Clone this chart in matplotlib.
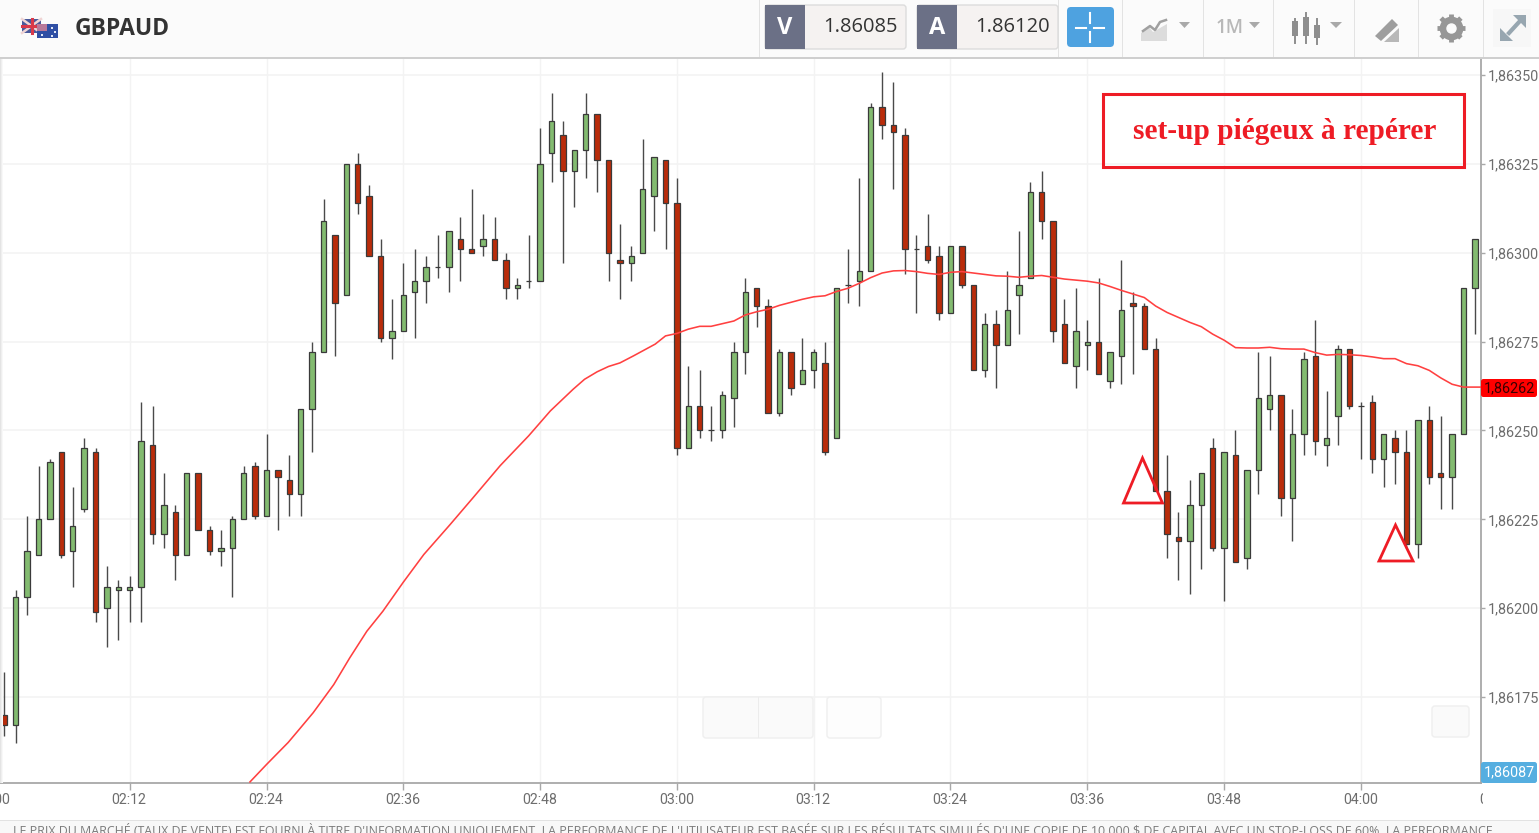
import matplotlib
matplotlib.use("Agg")
import matplotlib.pyplot as plt
from matplotlib.patches import Rectangle, FancyBboxPatch, Polygon
from matplotlib.transforms import Bbox, IdentityTransform, TransformedBbox, blended_transform_factory
import numpy as np

# --- Data: points above 1.86000, one entry per 1 minute candle ---
BASE = 1.86
first_minute = 2 * 60 + 1  # 02:01

opens = [170, 167, 203, 215, 225, 244, 216, 228, 244, 200, 205, 205, 206, 246, 221, 227, 215, 238, 222, 216,
         217, 225, 240, 226, 239, 236, 232, 256, 272, 305, 288, 325, 316, 299, 276, 278, 289, 292, 296, 296,
         304, 301, 302, 304, 298, 290, 292, 292, 328, 333, 323, 329, 339, 326, 298, 297, 300, 316, 326, 314,
         245, 257, 250, 250, 259, 272, 290, 285, 255, 272, 263, 267, 269, 248, 291, 292, 295, 341, 336, 333,
         301, 302, 299, 283, 302, 291, 267, 280, 274, 288, 293, 317, 309, 280, 268, 274, 275, 264, 271, 286,
         285, 273, 233, 220, 219, 229, 245, 217, 243, 214, 239, 256, 260, 231, 249, 271, 246, 254, 273, 257,
         258, 242, 248, 244, 218, 253, 238, 237, 249, 290]
closes = [167, 203, 216, 225, 241, 215, 223, 245, 199, 206, 206, 206, 247, 221, 229, 215, 238, 222, 216, 217,
          225, 238, 226, 239, 237, 232, 256, 272, 309, 286, 325, 314, 299, 276, 278, 288, 292, 296, 296, 306,
          301, 300, 304, 298, 290, 291, 292, 325, 337, 323, 329, 339, 326, 300, 297, 299, 318, 327, 314, 245,
          257, 250, 250, 260, 272, 289, 285, 255, 272, 262, 267, 272, 244, 290, 291, 295, 341, 336, 334, 301,
          301, 298, 283, 302, 291, 267, 280, 274, 284, 291, 317, 309, 278, 269, 278, 275, 266, 272, 284, 285,
          273, 233, 221, 219, 229, 238, 217, 244, 213, 239, 259, 260, 231, 249, 270, 247, 248, 273, 257, 257,
          242, 249, 244, 218, 253, 237, 237, 249, 290, 304]
highs = [182, 205, 226, 240, 242, 244, 234, 248, 245, 212, 208, 209, 258, 257, 238, 229, 238, 238, 223, 222,
         226, 240, 241, 249, 239, 243, 256, 275, 315, 305, 325, 328, 319, 304, 287, 297, 301, 299, 305, 306,
         310, 318, 311, 310, 300, 293, 305, 335, 345, 337, 329, 345, 339, 326, 308, 302, 332, 327, 326, 321,
         268, 267, 257, 261, 275, 293, 290, 287, 273, 272, 276, 273, 275, 290, 301, 321, 342, 351, 348, 335,
         305, 311, 302, 302, 302, 291, 283, 284, 295, 306, 320, 323, 309, 287, 290, 281, 293, 272, 298, 289,
         286, 276, 243, 227, 236, 238, 248, 244, 250, 239, 272, 271, 260, 256, 272, 281, 261, 274, 273, 258,
         260, 249, 250, 250, 253, 257, 254, 249, 290, 304]
lows = [164, 162, 198, 215, 225, 214, 206, 227, 196, 189, 191, 196, 196, 218, 217, 208, 215, 222, 215, 212,
        203, 225, 225, 226, 222, 226, 226, 244, 272, 271, 288, 311, 299, 275, 270, 278, 276, 286, 293, 289,
        292, 300, 299, 298, 287, 287, 290, 292, 320, 297, 313, 321, 317, 292, 287, 292, 300, 306, 301, 243,
        245, 248, 247, 248, 251, 266, 279, 255, 254, 260, 263, 262, 243, 248, 286, 285, 295, 332, 318, 294,
        283, 297, 281, 283, 290, 267, 265, 262, 274, 277, 293, 304, 275, 269, 262, 267, 266, 262, 263, 266,
        273, 233, 214, 208, 204, 211, 216, 202, 213, 211, 232, 250, 226, 219, 243, 243, 240, 246, 256, 242,
        238, 234, 235, 217, 214, 235, 228, 228, 249, 277]

ma_index = [10.55, 12, 13.9, 14.9, 16.1, 17.9, 19.3, 20.8, 22.2, 24, 25.8, 28.1, 30.1, 32.5, 35, 36.9, 38.9, 39.9,
            41, 42, 43, 44.2, 46.1, 47, 48, 49, 50, 51, 53, 54, 55, 56, 57, 59, 60, 61, 62, 63, 64, 65, 66, 67, 68,
            69, 70, 71, 72, 73, 74, 75, 76, 77, 78, 79, 80, 81, 82, 83, 84, 85, 86, 87, 88, 89, 90, 91, 92, 93, 94,
            95, 96, 97, 98, 99, 100, 101, 102, 103, 104, 105, 106, 107, 108, 109, 110, 111, 112, 113, 114, 115,
            116, 117, 118, 118.6]
ma_values = [151.1, 156, 162.2, 166, 170.6, 178.5, 186, 193.5, 199.1, 207.3, 215.1, 223.5, 231, 240.1, 248.5, 255.5,
             261.6, 264.4, 266.5, 268, 269, 271, 274.3, 276.6, 277.3, 278.5, 279.3, 279.3, 280.8, 282.5, 283.4,
             284.1, 285.2, 286.9, 287.6, 287.9, 289.1, 290, 291.4, 293, 294.3, 294.9, 295, 294.7, 294.2, 293.9,
             294.5, 294.7, 294.3, 293.9, 293.5, 293.4, 293.1, 293.4, 293.6, 293.1, 292.6, 292.3, 292, 291.5, 290.5,
             289.4, 288.4, 287.4, 285, 283.2, 281.8, 280.4, 279.2, 277.1, 275.4, 273.3, 273.2, 273.2, 273.4, 273,
             272.9, 272.9, 271.9, 271.2, 271.4, 271.3, 271.1, 270.7, 270.2, 270.2, 268.8, 268.2, 266.9, 264.8, 263,
             262.2, 262.2, 262.2]

price_ticks = [175, 200, 225, 250, 275, 300, 325, 350]
minute_ticks = [120 + 12 * k for k in range(12)]  # 02:00 .. 04:12

GREEN = "#83bb70"
RED = "#b92c0a"
EDGE = "#3a3a3a"
GRID = "#f3f3f3"
LABEL = "#6d6d6d"
FONT = ["Open Sans", "DejaVu Sans"]
TICK_FONT = ["Roboto", "DejaVu Sans"]
plt.rcParams["font.family"] = FONT


def to_price(points):
    return BASE + np.asarray(points, dtype=float) * 1e-5


opens_p, closes_p = to_price(opens), to_price(closes)
highs_p, lows_p = to_price(highs), to_price(lows)
minutes = first_minute + np.arange(len(opens))

fig = plt.figure(figsize=(15.39, 8.33), dpi=100, facecolor="white")
ax = fig.add_axes([0, 1 - 783 / 833, 1481 / 1539, (783 - 58) / 833])
ax.set_xlim(132 - 129.7 / 11.4, 132 + (1481 - 129.7) / 11.4)
ax.set_ylim(to_price(150.8), to_price(354.8))
ax.set_zorder(2)

for m in minute_ticks:
    ax.axvline(m, color=GRID, lw=1, zorder=0)
for p in price_ticks:
    ax.axhline(to_price(p), color=GRID, lw=1.2, zorder=0)

# --- Candles ---
up = closes_p >= opens_p
colors = [GREEN if u else RED for u in up]
ax.vlines(minutes, lows_p, highs_p, color="#4a4a4a", lw=1.0, zorder=2)
ax.bar(minutes, np.abs(closes_p - opens_p), width=0.47, bottom=np.minimum(opens_p, closes_p),
       color=colors, edgecolor=EDGE, linewidth=0.9, zorder=3)
ax.plot(np.asarray(ma_index) + 132, to_price(ma_values), color="#ff4040", lw=1.15, zorder=4, solid_joinstyle="round")

# --- Axes ---
for name in ["top", "left"]:
    ax.spines[name].set_visible(False)
for name in ["right", "bottom"]:
    ax.spines[name].set_color("#a8a8a8")
    ax.spines[name].set_linewidth(1.3)
ax.yaxis.tick_right()
ax.set_yticks(to_price(price_ticks))
ax.set_yticklabels([f"{to_price(p):.5f}".replace(".", ",") for p in price_ticks], fontsize=10.4, color=LABEL,
                   family=TICK_FONT)
ax.tick_params(axis="y", length=3, width=1, color="#a8a8a8", pad=2)
ax.set_xticks([m for m in minute_ticks if ax.get_xlim()[0] < m < ax.get_xlim()[1]])
ax.set_xticklabels([])
ax.tick_params(axis="x", length=5, width=1, color="#a8a8a8")

# 02:00 and 04:12 sit past the edges, so labels are placed by hand and clipped at the axis end
clip = TransformedBbox(Bbox([[0, 0], [1483, 833]]), IdentityTransform())
label_tf = blended_transform_factory(ax.transData, IdentityTransform())
for m in minute_ticks:
    t = ax.text(m - 0.05, 833 - 799.5, f"{m // 60:02d}:{m % 60:02d}", transform=label_tf, ha="center", va="center",
                fontsize=10.2, color=LABEL, family=TICK_FONT)
    t.set_clip_box(clip)
    t.set_clip_on(True)

# --- Page chrome, in pixel coordinates ---
ui = fig.add_axes([0, 0, 1, 1], zorder=3)
ui.set_xlim(0, 1539)
ui.set_ylim(833, 0)
ui.axis("off")
ui.patch.set_alpha(0)


def box(x0, y0, x1, y1, color, edge="none", lw=0, z=1):
    ui.add_patch(Rectangle((x0, y0), x1 - x0, y1 - y0, facecolor=color, edgecolor=edge, linewidth=lw, zorder=z))


def rbox(x0, y0, x1, y1, color, edge="none", lw=0, r=3, z=1):
    ui.add_patch(FancyBboxPatch((x0 + r, y0 + r), x1 - x0 - 2 * r, y1 - y0 - 2 * r,
                                boxstyle=f"round,pad={r},rounding_size={r}", mutation_aspect=1,
                                facecolor=color, edgecolor=edge, linewidth=lw, zorder=z))


# left shadow
for i, g in enumerate(["#e4e4e4", "#efefef", "#f8f8f8"]):
    box(i, 58, i + 1, 783, g)

# header
box(0, 0, 1539, 57, "#fbfbfb")
box(0, 57, 1539, 58.5, "#cfcfcf")
for x in [759, 1058, 1122, 1203, 1273, 1354, 1418, 1483]:
    box(x, 0, x + 1, 57, "#e3e3e3")

# flags
box(22, 19, 41, 33, "#4a5a9c")
ui.plot([22, 41], [19, 33], color="#f0d5d5", lw=1.8, zorder=2)
ui.plot([22, 41], [33, 19], color="#f0d5d5", lw=1.8, zorder=2)
ui.plot([31.5, 31.5], [19, 33], color="#d9394a", lw=2.2, zorder=2)
ui.plot([22, 41], [26, 26], color="#d9394a", lw=2.2, zorder=2)
box(37, 24, 58, 38, "#2f4fa5", z=3)
box(37, 24, 47, 31, "#b9799a", z=3)
for sx, sy in [(51, 27), (54, 31), (51, 35), (41, 34)]:
    box(sx, sy, sx + 1.5, sy + 1.5, "#dfe6f5", z=4)
ui.text(75, 28.5, "GBPAUD", fontsize=16.5, fontweight="bold", color="#333333", va="center", ha="left")

# bid / ask boxes
for x0, x1, x2, letter, quote in [(765, 805, 906, "V", "1.86085"), (917, 957, 1058, "A", "1.86120")]:
    rbox(x0, 5, x2, 49, "#f5f2f1", edge="#dcdcdc", lw=1)
    box(x0, 5, x1, 49, "#6b7086", z=2)
    ui.text((x0 + x1) / 2, 28, letter, fontsize=17, fontweight="bold", color="white", ha="center", va="center", zorder=3)
    ui.text(x2 - 8, 27, quote, fontsize=14.5, color="#333333", ha="right", va="center", zorder=3)

# crosshair button
rbox(1067, 7, 1114, 47, "#4ea2e0", r=4)
for xs, ys in [([1076, 1086], [27.5, 27.5]), ([1094, 1104], [27.5, 27.5]), ([1090, 1090], [13, 23]), ([1090, 1090], [32, 42])]:
    ui.plot(xs, ys, color="white", lw=1.5, zorder=3)

# header icons
ICON = "#a9a9a9"
ui.add_patch(Polygon([(1141, 41), (1141, 33), (1149, 27), (1153, 32), (1167, 24), (1167, 41)], facecolor="#dcdcdc", zorder=2))
ui.plot([1143, 1150, 1155, 1160, 1166], [31, 26, 30, 22, 20], color="#a0a0a0", lw=1.8, zorder=3)
ui.add_patch(Polygon([(1179, 22), (1190, 22), (1184.5, 28)], facecolor=ICON, zorder=2))
ui.text(1230, 28, "1M", fontsize=13.5, fontweight="semibold", color="#b8b8b8", ha="center", va="center")
ui.add_patch(Polygon([(1249, 22), (1260, 22), (1254.5, 28)], facecolor=ICON, zorder=2))
for x, (a, b, c, d) in zip([1295, 1306, 1317], [(19, 21, 36, 43), (13, 17, 36, 43), (19, 25, 38, 44)]):
    ui.plot([x, x], [a, d], color="#8e8e8e", lw=1.4, zorder=2)
    box(x - 3, b, x + 3, c, "#8e8e8e", z=3)
ui.add_patch(Polygon([(1330, 22), (1342, 22), (1336, 28)], facecolor=ICON, zorder=2))
ui.add_patch(Polygon([(1375, 36), (1392, 19), (1398, 25), (1381, 41)], facecolor="#9e9e9e", zorder=2))
ui.add_patch(Polygon([(1384, 42), (1399, 28), (1399, 42)], facecolor="#b8b8b8", zorder=2))
ui.plot([1451], [28], "o", ms=16, color="#979797", zorder=2)
for ang in np.deg2rad(np.arange(0, 360, 45)):
    ui.plot([1451, 1451 + 14 * np.cos(ang)], [28, 28 + 14 * np.sin(ang)], color="#979797", lw=3.5, zorder=2,
            solid_capstyle="butt")
ui.plot([1451], [28], "o", ms=6.5, color="#fbfbfb", zorder=3)
box(1493, 9, 1531, 47, "#f7f7f7")
for a, b, c in [((1526, 15), (1513, 15), (1526, 28)), ((1500, 41), (1513, 41), (1500, 28))]:
    ui.add_patch(Polygon([a, b, c], facecolor="#97a6b0", zorder=3))
ui.plot([1509, 1520], [33, 21], color="#97a6b0", lw=3, zorder=3)

# zoom buttons floating over the chart
rbox(703, 697, 813, 738, "#fafafa", edge="#efefef", lw=1, r=3)
box(757.5, 697, 758.5, 738, "#ececec", z=2)
rbox(827, 697, 881, 738, "#fdfdfd", edge="#efefef", lw=1, r=3)
rbox(1432, 706, 1469, 737, "#fafafa", edge="#efefef", lw=1, r=3)

# price tags
rbox(1481, 379, 1537, 397, "#ff0000", r=2.5)
ui.text(1509, 388.5, "1,86262", fontsize=10.4, color="#3a0000", ha="center", va="center", zorder=3, family=TICK_FONT)
rbox(1481, 762, 1537, 783, "#55aee0", r=2.5)
ui.text(1509, 772, "1,86087", fontsize=10.4, color="white", ha="center", va="center", zorder=3, family=TICK_FONT)

# annotations added on the screenshot
ANN = "#ee1c25"
ui.add_patch(Rectangle((1103, 94), 361, 72.5, facecolor="none", edgecolor=ANN, linewidth=2.2, zorder=5))
ui.text(1284.5, 131, "set-up piégeux à repérer", fontsize=21.2, fontweight="bold", color=ANN, ha="center", va="center",
        family=["Liberation Serif", "DejaVu Serif"], zorder=5)
ui.add_patch(Polygon([(1142.5, 458), (1123.5, 503), (1162.5, 503)], facecolor="none", edgecolor=ANN, linewidth=2, zorder=5))
ui.add_patch(Polygon([(1395.5, 525), (1379, 561), (1413, 561)], facecolor="none", edgecolor=ANN, linewidth=2, zorder=5))

# footer
box(0, 820, 1539, 833, "#f8f8f8")
box(0, 819.5, 1539, 820.5, "#e2e2e2")
ui.text(13, 824, "LE PRIX DU MARCHÉ (TAUX DE VENTE) EST FOURNI À TITRE D'INFORMATION UNIQUEMENT. LA PERFORMANCE DE L'UTILISATEUR "
        "EST BASÉE SUR LES RÉSULTATS SIMULÉS D'UNE COPIE DE 10 000 $ DE CAPITAL AVEC UN STOP-LOSS DE 60%. LA PERFORMANCE",
        fontsize=8.94, color="#7b7b7b", ha="left", va="top", zorder=2, clip_on=True)

fig.savefig("out.png", dpi=100)
